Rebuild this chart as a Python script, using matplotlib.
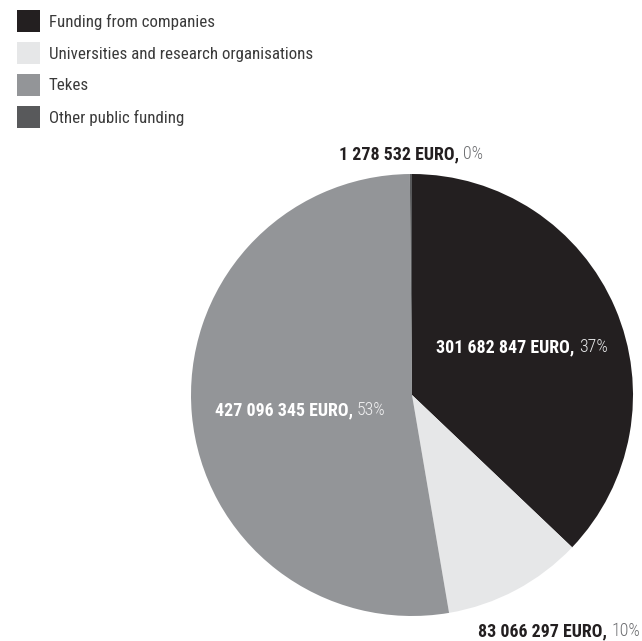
import matplotlib
matplotlib.use("Agg")
import matplotlib.pyplot as plt
from matplotlib.patches import Rectangle
from matplotlib import font_manager

# Data
categories = ["Funding from companies", "Universities and research organisations",
              "Tekes", "Other public funding"]
amounts = [301682847, 83066297, 427096345, 1278532]
amount_labels = ["301 682 847 EURO,", "83 066 297 EURO,", "427 096 345 EURO,", "1 278 532 EURO,"]
pct_labels = ["37%", "10%", "53%", "0%"]
colors = ["#231f20", "#e6e7e8", "#939598", "#58595b"]

# pick a narrow face if one is installed
installed = set(f.name for f in font_manager.fontManager.ttflist)
narrow = [n for n in ["Roboto Condensed", "Liberation Sans Narrow", "Open Sans Condensed",
                      "Noto Sans Condensed", "DejaVu Sans Condensed"] if n in installed]
family = narrow[0] if narrow else "Liberation Sans"
plt.rcParams['font.family'] = [family, 'DejaVu Sans']
fs = 12.2 if narrow else 10.5
fs_lab = 12.9 if narrow else 11

W, H = 642, 641
fig = plt.figure(figsize=(W / 100, H / 100), dpi=100)
ax = fig.add_axes([0, 0, 1, 1])

cx, cy, r = 412, H - 395, 221
ax.pie(amounts, colors=colors, startangle=90, counterclock=False,
       center=(cx, cy), radius=r, frame=True,
       wedgeprops=dict(linewidth=0))
ax.set_xlim(0, W)
ax.set_ylim(0, H)
ax.set_aspect('equal')
ax.axis('off')

# Legend
for i, (lab, col) in enumerate(zip(categories, colors)):
    top = 10 + i * 32
    ax.add_patch(Rectangle((17, H - top - 22), 23, 22, facecolor=col, edgecolor='none'))
    ax.text(49, H - top - 12, lab, fontsize=fs, color='#3a3a3a', va='center', ha='left')

fig.canvas.draw()
renderer = fig.canvas.get_renderer()


def two_part(xc, y, bold, reg, c1, c2):
    t1 = ax.text(0, y, bold + " ", fontsize=fs_lab, fontweight='bold', color=c1, va='center')
    t2 = ax.text(0, y, reg, fontsize=fs_lab, fontweight='light', color=c2, va='center')
    w1 = t1.get_window_extent(renderer).width
    w2 = t2.get_window_extent(renderer).width
    x0 = xc - (w1 + w2) / 2
    t1.set_x(x0)
    t2.set_x(x0 + w1)


label_pos = [(522, 347), (559, 631), (300, 410), (411, 154)]
bold_cols = ["white", "#231f20", "white", "#231f20"]
reg_cols = ["#e6e7e8", "#6d6e71", "#f1f1f2", "#6d6e71"]
for (x, y), b, p, c1, c2 in zip(label_pos, amount_labels, pct_labels, bold_cols, reg_cols):
    two_part(x, H - y, b, p, c1, c2)

fig.savefig("out.png", dpi=100, facecolor='white')
